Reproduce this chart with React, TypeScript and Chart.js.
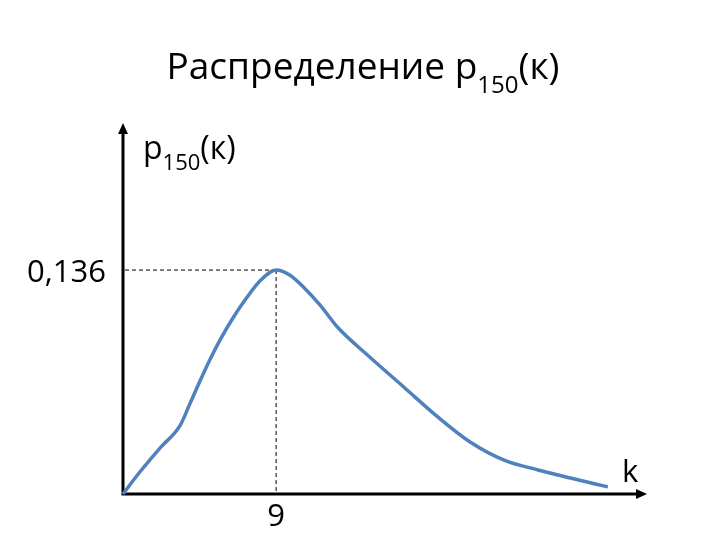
import React, { useEffect, useRef } from "react";
import { Chart, registerables } from "chart.js";

Chart.register(...registerables);

// Data: k on the x axis, p150(k) on the y axis
const kValues = [0, 1.0, 2.2, 3.35, 3.95, 4.55, 5.1, 5.7, 6.5, 7.3, 8.1, 9, 9.8, 10.6, 11.6, 12.6, 14.5, 16.5, 18.5, 20.4, 22.4, 24.4, 26.3, 28.5];
const pValues = [0, 0.0135, 0.0282, 0.0415, 0.0553, 0.0692, 0.0814, 0.0935, 0.1075, 0.1196, 0.1299, 0.136, 0.133, 0.1257, 0.1145, 0.1014, 0.0832, 0.065, 0.0468, 0.0316, 0.0206, 0.0146, 0.0097, 0.0043];

const peakK = 9;
const peakP = 0.136;
const peakPLabel = "0,136";
const peakKLabel = "9";
const xAxisName = "k";
const xMax = 30.8;
const yMax = 0.2253;

const titleParts = [
  { text: "Распределение p", sub: false },
  { text: "150", sub: true },
  { text: "(к)", sub: false },
];
const yAxisParts = [
  { text: "p", sub: false },
  { text: "150", sub: true },
  { text: "(к)", sub: false },
];

const FONT = "'Open Sans', 'Noto Sans', sans-serif";

function drawParts(
  ctx: CanvasRenderingContext2D,
  parts: { text: string; sub: boolean }[],
  x: number,
  y: number,
  size: number,
  subSize: number,
  subDy: number,
  align: "left" | "center"
) {
  ctx.save();
  ctx.fillStyle = "#000";
  ctx.textBaseline = "alphabetic";
  ctx.textAlign = "left";
  const widths = parts.map((p) => {
    ctx.font = `${p.sub ? subSize : size}px ${FONT}`;
    return ctx.measureText(p.text).width;
  });
  const total = widths.reduce((a, b) => a + b, 0);
  let cx = align === "center" ? x - total / 2 : x;
  parts.forEach((p, i) => {
    ctx.font = `${p.sub ? subSize : size}px ${FONT}`;
    ctx.fillText(p.text, cx, y + (p.sub ? subDy : 0));
    cx += widths[i];
  });
  ctx.restore();
}

const axesPlugin = {
  id: "arrowAxes",
  beforeDatasetsDraw(chart: any) {
    const { ctx } = chart;
    const xs = chart.scales.x;
    const ys = chart.scales.y;
    const x0 = xs.getPixelForValue(0);
    const y0 = ys.getPixelForValue(0);
    const xEnd = xs.getPixelForValue(xMax);
    const yTop = ys.getPixelForValue(yMax);
    const px = xs.getPixelForValue(peakK);
    const py = ys.getPixelForValue(peakP);

    ctx.save();
    // dashed guide lines
    ctx.strokeStyle = "#000";
    ctx.lineWidth = 1;
    ctx.setLineDash([4, 3]);
    ctx.beginPath();
    ctx.moveTo(x0 + 2, py);
    ctx.lineTo(px, py);
    ctx.moveTo(px, py);
    ctx.lineTo(px, y0);
    ctx.stroke();
    ctx.setLineDash([]);

    // axes
    ctx.lineWidth = 3;
    ctx.beginPath();
    ctx.moveTo(x0, y0 + 1.5);
    ctx.lineTo(x0, yTop + 8);
    ctx.moveTo(x0 - 1.5, y0);
    ctx.lineTo(xEnd - 8, y0);
    ctx.stroke();

    // arrow heads
    ctx.fillStyle = "#000";
    ctx.beginPath();
    ctx.moveTo(x0, yTop);
    ctx.lineTo(x0 - 5, yTop + 11);
    ctx.lineTo(x0 + 5, yTop + 11);
    ctx.closePath();
    ctx.fill();
    ctx.beginPath();
    ctx.moveTo(xEnd, y0);
    ctx.lineTo(xEnd - 11, y0 - 5);
    ctx.lineTo(xEnd - 11, y0 + 5);
    ctx.closePath();
    ctx.fill();

    // labels
    ctx.font = `31px ${FONT}`;
    ctx.textBaseline = "alphabetic";
    ctx.textAlign = "right";
    ctx.fillText(peakPLabel, x0 - 17, py + 12);
    ctx.textAlign = "center";
    ctx.fillText(peakKLabel, px, y0 + 32);
    ctx.textAlign = "left";
    ctx.fillText(xAxisName, xEnd - 25, y0 - 12);
    ctx.restore();

    drawParts(ctx, yAxisParts, x0 + 20, yTop + 36, 32, 22, 11, "left");
    drawParts(ctx, titleParts, 363, 79, 37, 24, 14, "center");
  },
};

export default function App() {
  const ref = useRef<HTMLCanvasElement | null>(null);
  useEffect(() => {
    if (!ref.current) return;
    const chart = new Chart(ref.current, {
      type: "line",
      data: {
        datasets: [
          {
            data: kValues.map((k, i) => ({ x: k, y: pValues[i] })),
            borderColor: "#4F81BD",
            borderWidth: 3.5,
            pointRadius: 0,
            tension: 0.4,
            cubicInterpolationMode: "monotone",
            fill: false,
            clip: false as any,
          },
        ],
      },
      options: {
        animation: false,
        responsive: false,
        layout: { padding: { left: 123, right: 73, top: 123, bottom: 46 } },
        plugins: { legend: { display: false }, tooltip: { enabled: false }, title: { display: false } },
        scales: {
          x: { type: "linear", min: 0, max: xMax, display: false },
          y: { type: "linear", min: 0, max: yMax, display: false },
        },
      },
      plugins: [axesPlugin],
    });
    return () => chart.destroy();
  }, []);
  return (
    <div style={{ position: "fixed", left: 0, top: 0, width: 720, height: 540, background: "#fff" }}>
      <canvas ref={ref} width={720} height={540} />
    </div>
  );
}
